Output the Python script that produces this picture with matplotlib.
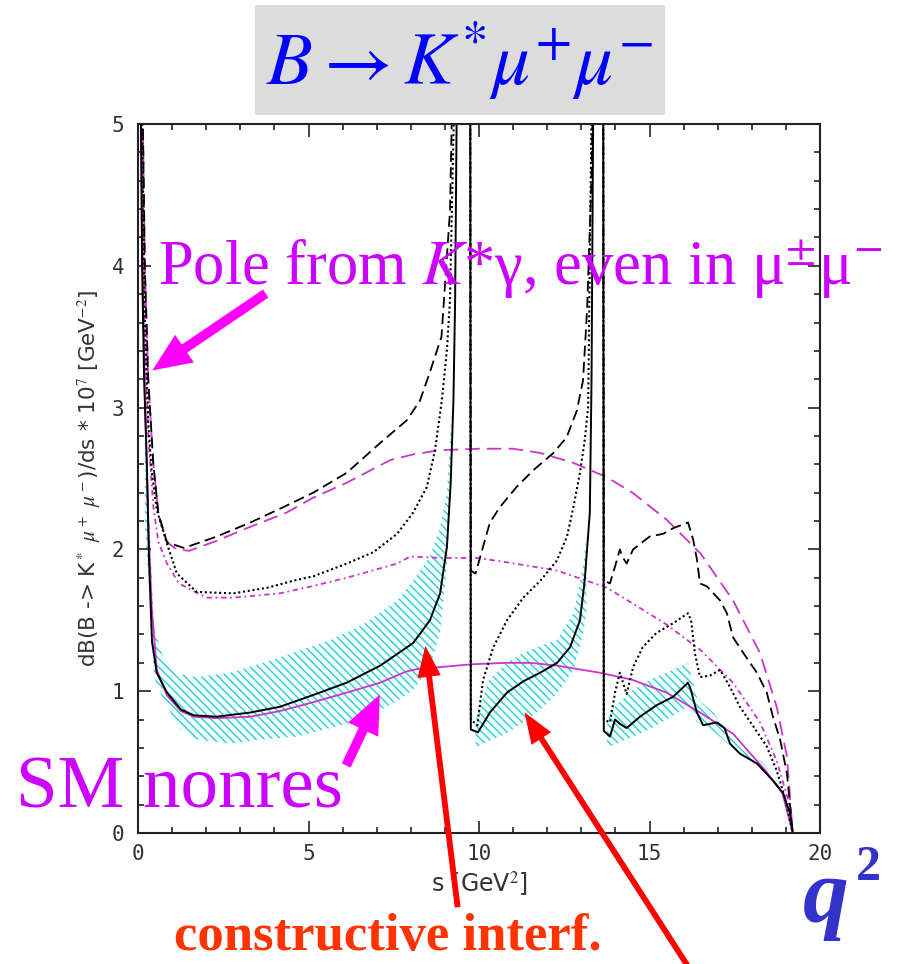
import numpy as np
import matplotlib
matplotlib.use("Agg")
import matplotlib.pyplot as plt
from matplotlib.patches import FancyArrowPatch, Rectangle
from matplotlib.ticker import MultipleLocator

plt.rcParams['mathtext.fontset'] = 'stix'
plt.rcParams['hatch.linewidth'] = 1.0

nan = np.nan

# SM with resonances (solid black), breaks at J/psi and psi'
s_res = [0.045, 0.08, 0.12, 0.18, 0.26, 0.32, 0.41, 0.55, 0.85, 1.26, 1.64, 2.3, 3.3, 4.16, 5.1,
         6.12, 7.1, 8.07, 8.56, 8.86, 9.06, 9.17, 9.25, 9.3, 9.36, nan,
         9.74, 9.76, 9.97, 10.32, 10.82, 11.3, 11.79, 12.29, 12.67, 12.96, 13.1, 13.25, 13.3, 13.36, nan,
         13.64, 13.66, 13.84, 13.99, 14.13, 14.33, 14.72, 15.2, 15.69, 16.13, 16.2, 16.39, 16.57,
         16.98, 17.2, 17.36, 17.65, 18.15, 18.62, 18.92, 19.12, 19.2]
sm_res = [7.0, 5.2, 4.0, 3.2, 2.6, 1.95, 1.35, 1.13, 0.99, 0.87, 0.83, 0.82, 0.85, 0.89, 0.97,
          1.06, 1.18, 1.34, 1.50, 1.69, 2.02, 2.47, 3.05, 3.76, 5.5, nan,
          6.0, 0.73, 0.71, 0.85, 0.99, 1.07, 1.13, 1.20, 1.31, 1.50, 1.78, 2.26, 3.2, 5.5, nan,
          6.0, 0.72, 0.68, 0.80, 0.77, 0.74, 0.82, 0.90, 0.96, 1.06, 1.02, 0.85, 0.76,
          0.78, 0.74, 0.63, 0.56, 0.49, 0.37, 0.28, 0.14, 0.0]

# error band around the SM curve
s_band = [0.2, 0.47, 0.74, 1.23, 1.72, 2.7, 3.67, 4.66, 5.63, 6.6, 7.6, 8.07, 8.56, 8.86, 9.06, 9.2, nan,
          9.9, 9.97, 10.3, 10.8, 11.3, 11.8, 12.28, 12.77, 13.05, 13.15, nan,
          13.75, 13.84, 14.52, 15.0, 15.5, 16.13, 16.4, 16.87, 17.2, 17.7, 18.3, 18.8]
band_hi = [3.0, 1.45, 1.24, 1.12, 1.10, 1.13, 1.20, 1.28, 1.36, 1.47, 1.64, 1.78, 1.95, 2.16, 2.4, 3.0, nan,
           0.8, 0.85, 1.08, 1.2, 1.27, 1.32, 1.36, 1.55, 1.88, 2.1, nan,
           0.75, 0.86, 1.01, 1.08, 1.13, 1.2, 0.95, 0.85, 0.74, 0.6, 0.5, 0.36]
band_lo = [2.2, 1.1, 0.94, 0.73, 0.66, 0.63, 0.66, 0.68, 0.74, 0.80, 0.93, 1.01, 1.17, 1.41, 1.88, 2.58, nan,
           0.6, 0.61, 0.65, 0.70, 0.78, 0.87, 0.98, 1.15, 1.40, 1.55, nan,
           0.6, 0.61, 0.68, 0.73, 0.8, 0.89, 0.78, 0.72, 0.65, 0.55, 0.46, 0.32]

# non-SM variants with resonances (dotted and dashed black)
s_dot = [0.045, 0.1, 0.2, 0.3, 0.4, 0.55, 0.85, 1.14, 1.72, 2.8, 3.8, 4.57, 5.14, 6.12, 6.9, 7.6,
         8.07, 8.47, 8.71, 8.91, 9.06, 9.15, 9.3, nan,
         9.74, 9.76, 9.95, 10.12, 10.42, 10.82, 11.3, 11.8, 12.28, 12.58, 12.77, 12.96, 13.1, 13.2, 13.32, nan,
         13.64, 13.66, 13.84, 13.99, 14.13, 14.33, 14.52, 14.8, 15.2, 15.7, 16.13, 16.22, 16.33, 16.48,
         16.77, 17.07, 17.36, 17.65, 18.05, 18.44, 18.73, 18.97, 19.2]
res_dot = [8.0, 5.5, 3.6, 2.9, 2.55, 2.28, 2.04, 1.83, 1.70, 1.69, 1.73, 1.78, 1.81, 1.90, 1.98, 2.11,
           2.26, 2.44, 2.70, 3.05, 3.41, 3.76, 5.5, nan,
           6.0, 0.8, 0.76, 1.08, 1.31, 1.50, 1.66, 1.78, 1.92, 2.09, 2.30, 2.54, 2.77, 3.0, 5.5, nan,
           6.0, 0.8, 0.78, 0.99, 1.13, 0.98, 1.17, 1.31, 1.41, 1.48, 1.55, 1.50, 1.27, 1.10,
           1.11, 1.15, 1.03, 0.89, 0.75, 0.61, 0.44, 0.25, 0.0]

s_dash = [0.045, 0.1, 0.2, 0.3, 0.45, 0.6, 0.85, 1.35, 2.3, 3.3, 4.28, 5.14, 6.12, 7.1, 7.88, 8.27,
          8.56, 8.9, 9.15, 9.24, nan,
          9.74, 9.76, 9.9, 10.12, 10.32, 10.62, 11.1, 11.6, 12.18, 12.57, 12.87, 13.05, 13.17, 13.3, 13.36, nan,
          13.64, 13.66, 13.84, 13.99, 14.13, 14.2, 14.33, 14.52, 15.0, 15.4, 15.7, 16.13, 16.28, 16.39,
          16.48, 16.68, 17.07, 17.27, 17.45, 17.75, 18.15, 18.44, 18.62, 18.83, 19.03, 19.2]
res_dash = [8.0, 5.8, 4.0, 3.2, 2.6, 2.25, 2.05, 2.01, 2.09, 2.19, 2.30, 2.40, 2.54, 2.75, 2.91, 3.05,
            3.25, 3.5, 4.39, 5.5, nan,
            6.0, 1.85, 1.83, 2.02, 2.19, 2.30, 2.44, 2.56, 2.68, 2.79, 2.98, 3.19, 3.69, 4.63, 5.5, nan,
            6.0, 1.78, 1.76, 1.88, 2.0, 1.95, 1.9, 2.0, 2.09, 2.11, 2.15, 2.19, 2.07, 1.93,
            1.76, 1.74, 1.64, 1.55, 1.38, 1.27, 1.13, 0.99, 0.82, 0.66, 0.42, 0.0]

# non-resonant curves (magenta)
s_nr = [0.045, 0.1, 0.15, 0.2, 0.3, 0.4, 0.55, 0.85, 1.26, 1.64, 2.3, 3.3, 4.16, 5.1, 6.12, 7.1,
        7.88, 8.27, 8.86, 9.8, 10.8, 11.5, 12.3, 13.55, 14.5, 15.5, 16.48, 17.45, 18.4, 18.9, 19.2]
nr_sm = [7.0, 4.8, 3.8, 3.1, 2.2, 1.6, 1.15, 0.97, 0.86, 0.82, 0.81, 0.82, 0.86, 0.92, 0.99, 1.06,
         1.14, 1.16, 1.17, 1.19, 1.20, 1.20, 1.18, 1.13, 1.08, 0.99, 0.85, 0.70, 0.44, 0.28, 0.0]

s_nr2 = [0.045, 0.1, 0.2, 0.3, 0.45, 0.6, 0.85, 1.2, 2.0, 2.8, 4.16, 5.1, 6.12, 7.6, 7.98, 8.86,
         9.93, 10.8, 12.3, 13.75, 14.5, 15.5, 16.5, 17.45, 18.24, 18.73, 19.07, 19.2]
nr_dot = [8.0, 5.4, 3.5, 2.8, 2.3, 2.05, 1.9, 1.76, 1.66, 1.66, 1.69, 1.74, 1.80, 1.90, 1.95, 1.94,
          1.94, 1.91, 1.85, 1.73, 1.62, 1.47, 1.29, 1.06, 0.78, 0.51, 0.23, 0.0]

s_nr3 = [0.045, 0.1, 0.2, 0.3, 0.45, 0.6, 0.85, 1.14, 1.5, 2.3, 3.3, 4.36, 5.1, 6.12, 7.4, 8.07,
         8.86, 10.0, 11.0, 11.8, 12.77, 13.74, 14.5, 15.5, 16.5, 17.45, 18.24, 18.73, 19.03, 19.2]
nr_dash = [8.0, 5.8, 4.0, 3.2, 2.6, 2.25, 2.05, 2.0, 1.99, 2.06, 2.16, 2.26, 2.36, 2.47, 2.63, 2.67,
           2.70, 2.71, 2.71, 2.68, 2.61, 2.51, 2.40, 2.21, 1.97, 1.64, 1.27, 0.89, 0.54, 0.0]

W, H = 900, 964


def fpos(x, y):
    # pixel position (from top-left) -> figure fraction
    return x / W, 1 - y / H


fig = plt.figure(figsize=(9, 9.64), dpi=100)
ax = fig.add_axes([138 / W, 1 - 833 / H, 682 / W, 709 / H])

ax.fill_between(s_band, band_lo, band_hi, facecolor='#f0ffff', edgecolor='#33cccc',
                hatch='\\\\\\\\', linewidth=0)

mag = '#cc33cc'
ax.plot(s_nr, nr_sm, color=mag, lw=1.3)
ax.plot(s_nr2, nr_dot, color=mag, lw=1.3, ls=(0, (3, 2, 1, 2)))
ax.plot(s_nr3, nr_dash, color=mag, lw=1.3, ls=(0, (8, 4)))

ax.plot(s_res, sm_res, color='black', lw=1.4)
ax.plot(s_dot, res_dot, color='black', lw=1.5, ls=(0, (1, 1.3)))
ax.plot(s_dash, res_dash, color='black', lw=1.3, ls=(0, (6, 3)))

ax.set_xlim(0, 20)
ax.set_ylim(0, 5)
ax.xaxis.set_major_locator(MultipleLocator(5))
ax.xaxis.set_minor_locator(MultipleLocator(1))
ax.yaxis.set_major_locator(MultipleLocator(1))
ax.yaxis.set_minor_locator(MultipleLocator(0.2))
ax.tick_params(which='both', direction='in', top=True, right=True, width=1.2, color='#222222')
ax.tick_params(which='major', length=9)
ax.tick_params(which='minor', length=4.5)
ax.tick_params(axis='both', labelsize=15, labelcolor='#333333')
ax.tick_params(axis='x', pad=8)
ax.tick_params(axis='y', pad=10)
for lab in ax.get_xticklabels() + ax.get_yticklabels():
    lab.set_family('DejaVu Sans Mono')
for sp in ax.spines.values():
    sp.set_linewidth(1.5)
    sp.set_color('#222222')

ax.set_xlabel(r's [GeV$^2$]', fontsize=17, color='#333333', labelpad=4)
ax.set_ylabel(r'dB(B -> K$^*$ $\mu^+$ $\mu^-$)/ds * 10$^7$ [GeV$^{-2}$]', fontsize=15.5,
              color='#333333', labelpad=6)

# title box
fig.patches.append(Rectangle(fpos(255, 115), 410 / W, 110 / H, transform=fig.transFigure,
                             facecolor='#dcdcdc', edgecolor='none', zorder=0))
fig.text(*fpos(460, 62), r'$B \rightarrow K^{*}\mu^{+}\mu^{-}$', fontsize=54, color='#0000ff',
         ha='center', va='center')

pink = '#cc00ff'
fig.text(*fpos(158, 284), r'Pole from $K$*γ, even in μ$^{\pm}$μ$^{-}$', fontsize=45,
         color=pink, family='Liberation Serif', ha='left', va='baseline')
fig.text(*fpos(16, 808), 'SM nonres', fontsize=54, color=pink, family='Liberation Serif',
         ha='left', va='baseline')
fig.text(*fpos(388, 950), 'constructive interf.', fontsize=38, color='#ff3300',
         family='Liberation Serif', weight='bold', ha='center', va='baseline')
fig.text(*fpos(803, 922), 'q', fontsize=66, color='#3333cc', family='Liberation Serif',
         weight='bold', style='italic', ha='left', va='baseline')
fig.text(*fpos(856, 880), '2', fontsize=36, color='#3333cc', family='Liberation Serif',
         weight='bold', ha='left', va='baseline')


def arrow(tail, head, color, scale, style):
    fig.patches.append(FancyArrowPatch(fpos(*tail), fpos(*head), transform=fig.transFigure,
                                       arrowstyle=style, mutation_scale=scale, color=color,
                                       linewidth=0, zorder=5))


arrow((268, 292), (150, 372), '#ff00ff', 20, 'simple,head_length=1.4,head_width=1.2,tail_width=0.35')
arrow((345, 768), (381, 692), '#ff00ff', 20, 'simple,head_length=1.4,head_width=1.2,tail_width=0.35')
arrow((458, 910), (425, 643), '#ff0000', 14, 'simple,head_length=1.6,head_width=1.2,tail_width=0.3')
arrow((700, 985), (523, 710), '#ff0000', 14, 'simple,head_length=1.6,head_width=1.2,tail_width=0.3')

fig.savefig('out.png', dpi=100)
